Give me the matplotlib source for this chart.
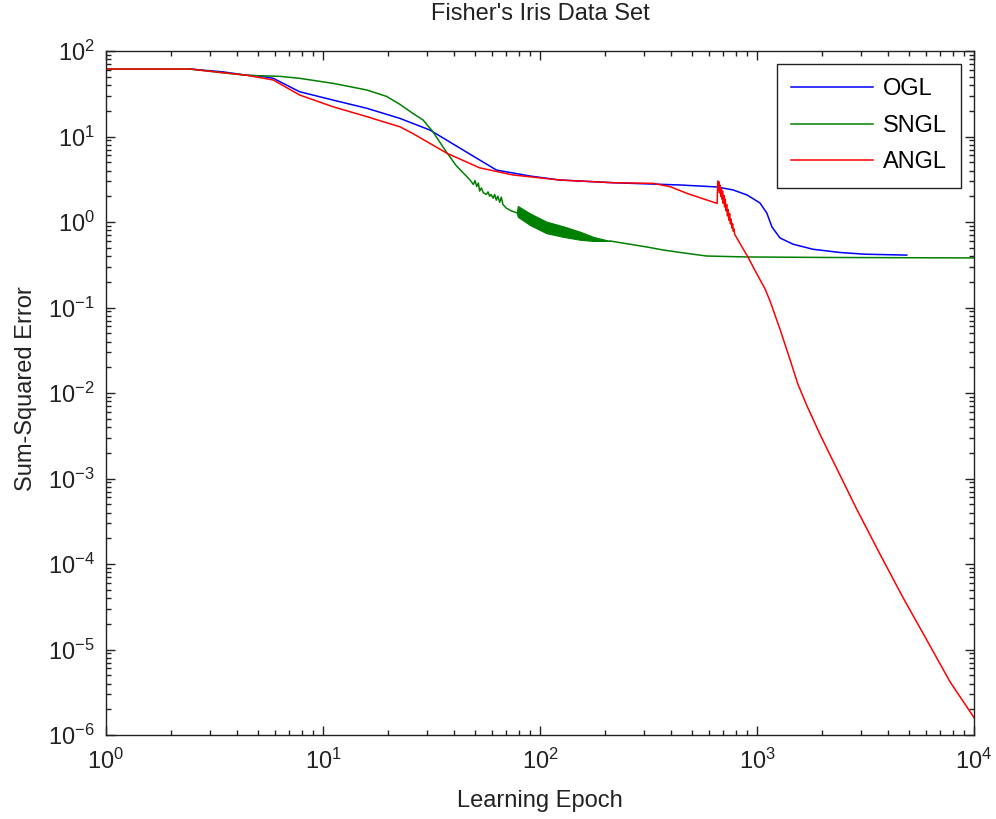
import numpy as np
import matplotlib
matplotlib.use('Agg')
import matplotlib.pyplot as plt

plt.rcParams['font.family'] = ['Liberation Sans', 'DejaVu Sans']
plt.rcParams['mathtext.fontset'] = 'custom'
plt.rcParams['mathtext.rm'] = 'Liberation Sans'
plt.rcParams['mathtext.it'] = 'Liberation Sans'

# ---- data ----
ogl_x = [2.44, 3.46, 4.46, 5.1, 5.9, 7.8, 11.1, 15.9, 22.6, 31.1, 44.2, 63, 89.9, 123,
         217, 442, 654, 776, 900, 1032, 1110, 1172, 1277, 1466, 1812, 2410, 3150, 4900]
ogl_y = [61.5, 57, 52, 51, 47.9, 33.4, 26.7, 21.4, 16.3, 11.9, 6.95, 4.05, 3.45, 3.1,
         2.88, 2.71, 2.57, 2.37, 2.07, 1.67, 1.27, 0.875, 0.65, 0.55, 0.48, 0.44, 0.42, 0.41]

sngl_x = [1, 2.44, 3.46, 4.46, 4.96, 6.34, 7.8, 11.1, 15.9, 19.6, 22.6, 25.5, 28.9, 32,
          36.5, 41, 47.6,
          49.3, 50.2, 51.1, 52.0, 52.7, 53.7, 54.8, 56.6, 57.6, 58.6, 59.5, 60.8, 61.8,
          62.9, 63.9, 65.2, 66.3, 67.5, 70.0, 73.7, 78.2]
sngl_y = [61.5, 61.5, 55.7, 52, 51.5, 50.5, 47.9, 41.9, 35, 29.5, 23.8, 19.2, 15.6, 11.5,
          6.95, 4.6, 3.1,
          2.75, 3.05, 2.6, 2.85, 2.3, 2.5, 2.2, 2.1, 2.25, 2.0, 2.1, 1.9, 2.1,
          1.8, 2.0, 1.7, 1.95, 1.6, 1.45, 1.35, 1.28]
# oscillating band of the SNGL curve
band_x = [78.2, 79, 90, 107, 128, 153, 176, 210]
band_hi = [1.28, 1.54, 1.26, 1.01, 0.89, 0.77, 0.67, 0.60]
band_lo = [1.28, 1.15, 0.92, 0.74, 0.67, 0.62, 0.60, 0.60]
sngl_tail_x = [210, 311, 370, 474, 586, 900, 2000, 10000]
sngl_tail_y = [0.60, 0.51, 0.47, 0.43, 0.40, 0.39, 0.385, 0.38]

angl_x = [1, 2.44, 3.46, 4.46, 5.9, 7.8, 11.1, 15.9, 18.3, 22.6, 26, 37.3, 52.7, 75,
          123, 217, 332, 398, 476, 654,
          655, 660, 664, 668, 672, 676, 681, 685, 690, 694, 699, 704, 709, 714, 720,
          725, 731, 736, 742, 748, 754, 760, 766, 772, 778, 783, 789, 794,
          835, 908, 996, 1089, 1150, 1277, 1418, 1545, 1694, 1950, 2168, 2465,
          2878, 3690, 4720, 6070, 7750, 10000]
angl_y = [61.5, 61.5, 55.7, 52, 45.8, 30.6, 22.3, 17.1, 15.3, 13.0, 10.8, 6.36, 4.3, 3.55,
          3.1, 2.88, 2.83, 2.59, 2.16, 1.65,
          1.65, 3.02, 2.35, 2.95, 2.2, 2.7, 2.0, 2.5, 1.85, 2.3, 1.65, 2.05, 1.5, 1.85, 1.35,
          1.6, 1.18, 1.4, 1.05, 1.25, 0.95, 1.08, 0.85, 0.95, 0.78, 0.83, 0.72, 0.70,
          0.56, 0.39, 0.25, 0.165, 0.118, 0.0555, 0.0248, 0.0126, 0.0072, 0.0033, 0.0019,
          9.8e-4, 4.4e-4, 1.3e-4, 4.0e-5, 1.28e-5, 4.2e-6, 1.6e-6]

x_decades = [0, 1, 2, 3, 4]
y_decades = [-6, -5, -4, -3, -2, -1, 0, 1, 2]

blue = (0, 0, 1)
green = (0, 0.5, 0)
red = (1, 0, 0)

fig = plt.figure(figsize=(9.96, 8.19), dpi=100)
ax = fig.add_axes([106 / 996, 84 / 819, 868 / 996, 684 / 819])

lw = 1.1
ax.loglog(ogl_x, ogl_y, color=blue, lw=lw, label='OGL')
ax.loglog(sngl_x, sngl_y, color=green, lw=lw, label='SNGL')
ax.fill_between(band_x, band_lo, band_hi, color=green, lw=0.8, edgecolor=green)
ax.loglog(sngl_tail_x, sngl_tail_y, color=green, lw=lw)
ax.loglog(angl_x, angl_y, color=red, lw=lw, label='ANGL')

ax.set_xlim(1, 1e4)
ax.set_ylim(1e-6, 1e2)

ax.set_xticks([10.0 ** d for d in x_decades])
ax.set_xticklabels([r'$\mathregular{10^{%d}}$' % d for d in x_decades])
ax.set_yticks([10.0 ** d for d in y_decades])
ax.set_yticklabels([r'$\mathregular{10^{%d}}$' % d for d in y_decades])
ax.xaxis.set_minor_locator(matplotlib.ticker.LogLocator(base=10, subs=np.arange(2, 10), numticks=20))
ax.yaxis.set_minor_locator(matplotlib.ticker.LogLocator(base=10, subs=np.arange(2, 10), numticks=20))
ax.xaxis.set_minor_formatter(matplotlib.ticker.NullFormatter())
ax.yaxis.set_minor_formatter(matplotlib.ticker.NullFormatter())

ax.tick_params(which='both', direction='in', top=True, right=True, width=1.0, colors='#222222',
               labelcolor='#222222')
ax.tick_params(which='major', length=6.5, labelsize=17)
ax.tick_params(axis='x', which='major', pad=10)
ax.tick_params(axis='y', which='major', pad=8)
ax.tick_params(which='minor', length=3.6)
for s in ax.spines.values():
    s.set_linewidth(1.0)
    s.set_color('#222222')

ax.set_xlabel('Learning Epoch', fontsize=17, color='#222222')
ax.xaxis.set_label_coords(0.5, -0.080)
ax.set_ylabel('Sum-Squared Error', fontsize=17, color='#222222')
ax.yaxis.set_label_coords(-0.080, 0.507)
ax.set_title("Fisher's Iris Data Set", fontsize=17, color='#222222', pad=22)

leg = ax.legend(loc='upper right', fontsize=17, handlelength=3.5, fancybox=False,
                framealpha=1, edgecolor='#222222', borderaxespad=0.55, labelspacing=0.62,
                borderpad=0.6, handletextpad=0.4)
leg.get_frame().set_linewidth(1.0)

fig.savefig('out.png', dpi=100)
